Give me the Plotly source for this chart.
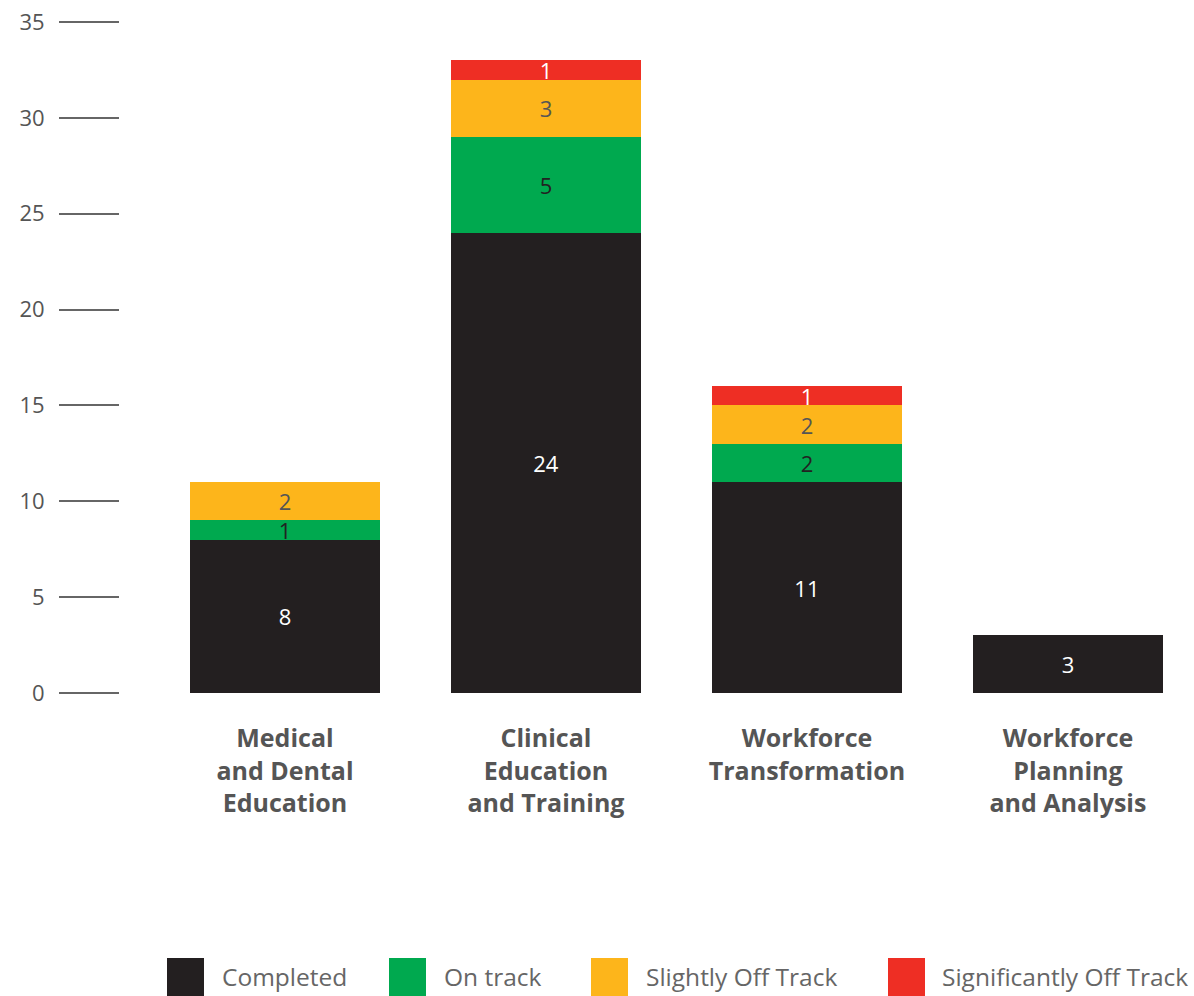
import plotly.graph_objects as go

categories = ["Medical<br>and Dental<br>Education", "Clinical<br>Education<br>and Training",
              "Workforce<br>Transformation", "Workforce<br>Planning<br>and Analysis"]
series_names = ["Completed", "On track", "Slightly Off Track", "Significantly Off Track"]
completed = [8, 24, 11, 3]
on_track = [1, 5, 2, 0]
slightly_off = [2, 3, 2, 0]
significantly_off = [0, 1, 1, 0]
colors = ["#231f20", "#00a94f", "#fdb51b", "#ee2e24"]
text_colors = ["#ffffff", "#222222", "#555555", "#ffffff"]
y_ticks = [0, 5, 10, 15, 20, 25, 30, 35]

W, H = 1194, 996
ML, MR, MT, MB = 120, 0, 22, 303
PW, PH = W - ML - MR, H - MT - MB

fig = go.Figure()
for name, vals, col, tcol in zip(series_names, [completed, on_track, slightly_off, significantly_off], colors, text_colors):
    fig.add_trace(go.Bar(
        x=categories, y=vals, name=name, marker=dict(color=col, line=dict(width=0)),
        text=[str(v) if v else "" for v in vals], textposition="inside",
        insidetextanchor="middle", textangle=0, constraintext="none",
        textfont=dict(color=tcol, size=22, family="Open Sans"),
        showlegend=False, hoverinfo="skip"))

# custom legend (large swatches)
def px_x(p):
    return (p - ML) / PW
def px_y(p):
    return (H - MB - p) / PH

legend_sq = [167, 389, 591, 888]
legend_tx = [220, 442, 644, 940]
shapes, annots = [], []
for name, col, sx, tx in zip(series_names, colors, legend_sq, legend_tx):
    shapes.append(dict(type="rect", xref="paper", yref="paper",
                       x0=px_x(sx), x1=px_x(sx + 37), y0=px_y(996), y1=px_y(958),
                       fillcolor=col, line=dict(width=0)))
    annots.append(dict(xref="paper", yref="paper", x=px_x(tx), y=px_y(977),
                       xanchor="left", yanchor="middle", showarrow=False, text=name,
                       font=dict(size=24.5, color="#666666", family="Open Sans")))

fig.update_layout(
    width=W, height=H, barmode="stack", bargap=0.272,
    margin=dict(l=ML, r=MR, t=MT, b=MB, pad=0),
    paper_bgcolor="white", plot_bgcolor="white",
    font=dict(family="Open Sans", color="#555555"),
    uniformtext=dict(minsize=22, mode="show"),
    shapes=shapes, annotations=annots,
    xaxis=dict(range=[-0.632, 3.483], showgrid=False, showline=False, zeroline=False,
               ticks="", tickfont=dict(size=25, color="#555555", family="Open Sans", weight="bold"),
               ticklabelstandoff=28, fixedrange=True),
    yaxis=dict(range=[0, 35], tickvals=y_ticks, showgrid=False, showline=False, zeroline=False,
               ticks="outside", ticklen=60, tickwidth=1.5, tickcolor="#666666",
               tickfont=dict(size=22, color="#555555", family="Open Sans"),
               ticklabelstandoff=10, fixedrange=True),
)
fig.write_html("out.html", config={"displayModeBar": False})

with open("out.html", "r", encoding="utf-8") as f:
    html = f.read()
html = html.replace("<head>", "<head><style>html,body{margin:0;padding:0;overflow:hidden;}</style>", 1)
with open("out.html", "w", encoding="utf-8") as f:
    f.write(html)
